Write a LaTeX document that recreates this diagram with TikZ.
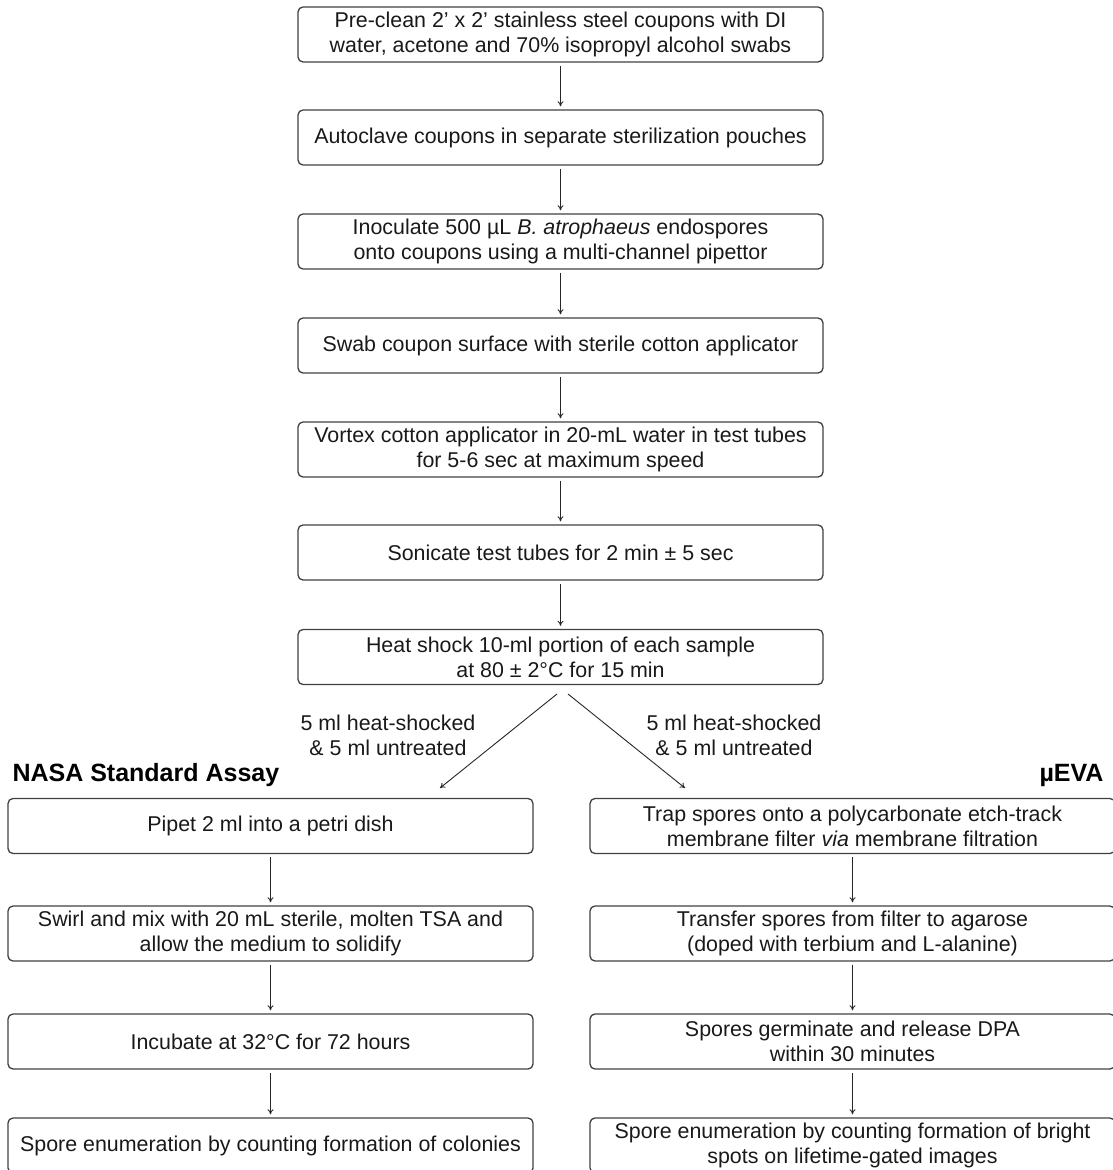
\documentclass[tikz,border=0pt]{standalone}
\usepackage{fontspec}
\setmainfont{Liberation Sans}
\usetikzlibrary{arrows.meta}
\begin{document}
\begin{tikzpicture}[x=1pt,y=-1pt,
  box/.style={draw=black!75, line width=1.3pt, rounded corners=5pt, minimum width=525pt, minimum height=55pt, align=center, inner sep=0pt, text=black!90, font=\fontsize{21.4}{25}\selectfont},
  arr/.style={-{To[length=5pt,width=6pt]}, line width=0.9pt, draw=black!85, shorten <=3pt, shorten >=3pt},
  lbl/.style={align=center, font=\fontsize{21.4}{25}\selectfont, text=black!90},
  head/.style={font=\fontsize{25}{28}\selectfont\bfseries, text=black}]
\useasboundingbox (0,0) rectangle (1112,1170);
\node[box] (b1) at (560.5,34.5) {Pre-clean 2’ x 2’ stainless steel coupons with DI\\water, acetone and 70\% isopropyl alcohol swabs};
\node[box] (b2) at (560.5,137.5) {Autoclave coupons in separate sterilization pouches};
\node[box] (b3) at (560.5,241.5) {Inoculate 500 µL \textit{B. atrophaeus} endospores\\onto coupons using a multi-channel pipettor};
\node[box] (b4) at (560.5,345.5) {Swab coupon surface with sterile cotton applicator};
\node[box] (b5) at (560.5,449.5) {Vortex cotton applicator in 20-mL water in test tubes\\for 5-6 sec at maximum speed};
\node[box] (b6) at (560.5,552.5) {Sonicate test tubes for 2 min ± 5 sec};
\node[box] (b7) at (560.5,657) {Heat shock 10-ml portion of each sample\\at 80 ± 2°C for 15 min};
\foreach \a/\b in {b1/b2,b2/b3,b3/b4,b4/b5,b5/b6,b6/b7}{\draw[arr] (\a) -- (\b);}
\node[box] (l1) at (270.5,826) {Pipet 2 ml into a petri dish};
\node[box] (l2) at (270.5,933.5) {Swirl and mix with 20 mL sterile, molten TSA and\\allow the medium to solidify};
\node[box] (l3) at (270.5,1041.5) {Incubate at 32°C for 72 hours};
\node[box] (l4) at (270.5,1145.5) {Spore enumeration by counting formation of colonies};
\node[box] (r1) at (852.5,826) {Trap spores onto a polycarbonate etch-track\\membrane filter \textit{via} membrane filtration};
\node[box] (r2) at (852.5,933.5) {Transfer spores from filter to agarose\\(doped with terbium and L-alanine)};
\node[box] (r3) at (852.5,1041.5) {Spores germinate and release DPA\\within 30 minutes};
\node[box] (r4) at (852.5,1145.5) {Spore enumeration by counting formation of bright\\spots on lifetime-gated images};
\foreach \a/\b in {l1/l2,l2/l3,l3/l4,r1/r2,r2/r3,r3/r4}{\draw[arr] (\a) -- (\b);}
\coordinate (sl) at (557,694);
\coordinate (sr) at (568,694);
\coordinate (el) at (440,788);
\coordinate (er) at (685,788);
\draw[arr, shorten <=0pt, shorten >=0pt] (sl) -- (el);
\draw[arr, shorten <=0pt, shorten >=0pt] (sr) -- (er);
\node[lbl] (tl) at (388,735) {5 ml heat-shocked\\\& 5 ml untreated};
\node[lbl] (tr) at (734,735) {5 ml heat-shocked\\\& 5 ml untreated};
\node[head, anchor=west] (hl) at (9,775) {NASA Standard Assay};
\node[head, anchor=east] (hr) at (1107,775) {µEVA};
\end{tikzpicture}
\end{document}
